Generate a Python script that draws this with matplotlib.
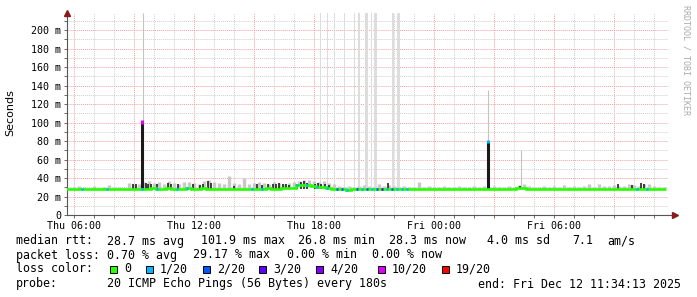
import numpy as np
import matplotlib
matplotlib.use("Agg")
import matplotlib.pyplot as plt
from matplotlib.patches import Rectangle
from matplotlib.ticker import MultipleLocator, FuncFormatter

W, H = 697, 297

# time axis: hours since Thu 00:00, 15 min steps
t_start, t_step = 5.6, 0.25

# median rtt in ms (one value per 15 min)
median = [28.0, 28.2, 27.9, 28.1, 28.0, 28.3, 28.1, 27.9, 28.0, 28.2, 28.1, 28.0,
          28.1, 28.0, 28.3, 28.6, 28.4, 28.9, 28.2, 28.5, 28.7, 28.3, 28.6, 28.4,
          28.8, 28.5, 28.3, 29.0, 28.6, 28.4, 28.2, 28.1, 28.3, 28.0, 28.2, 28.1,
          28.0, 28.2, 28.5, 28.3, 28.9, 28.6, 28.4, 29.0, 28.7, 29.0, 32.0, 32.5,
          32.8, 31.5, 29.8, 30.2, 29.5, 28.0, 27.6, 27.8, 27.5, 27.7, 27.6, 27.8,
          27.8, 28.0, 28.6, 28.1, 27.9, 28.2, 28.0, 28.1, 27.9, 28.2, 28.0, 28.1,
          28.0, 28.2, 27.9, 28.1, 28.3, 28.0, 27.9, 28.2, 28.1, 28.0, 28.2, 28.1,
          28.0, 28.3, 28.1, 28.0, 28.2, 28.1, 28.9, 29.5, 28.3, 28.0, 28.1, 28.2,
          28.0, 28.1, 28.2, 27.9, 28.1, 28.0, 28.2, 28.1, 28.0, 28.3, 28.1, 28.2,
          28.1, 28.0, 28.4, 28.2, 28.0, 28.3, 28.1, 28.0, 28.6, 28.2, 28.1, 28.0]

# loss per step: index into loss_colors
loss = [0, 0, 0, 1, 0, 0, 0, 0, 1, 0, 0, 0,
        0, 0, 0, 1, 0, 0, 1, 0, 0, 0, 1, 0,
        1, 0, 0, 0, 0, 0, 0, 0, 0, 0, 0, 0,
        0, 1, 0, 1, 0, 0, 0, 0, 0, 0, 1, 0,
        1, 0, 1, 0, 1, 0, 2, 2, 1, 0, 2, 1,
        2, 1, 2, 3, 1, 2, 1, 1, 1, 0, 0, 0,
        0, 0, 0, 0, 0, 0, 0, 0, 0, 0, 0, 0,
        0, 0, 0, 0, 0, 0, 0, 0, 0, 0, 0, 0,
        0, 0, 0, 0, 0, 0, 0, 0, 0, 0, 0, 0,
        0, 0, 0, 0, 0, 0, 1, 0, 1, 0, 0, 0]

# light smoke top (ms)
smoke_top = [29.5, 30.0, 31.0, 30.0, 29.5, 31.0, 29.5, 30.5, 32.0, 30.0, 30.5, 29.5,
             35.0, 34.0, 34.0, 36.0, 37.0, 35.0, 36.0, 34.0, 37.0, 35.0, 34.0, 36.0,
             36.0, 35.0, 34.0, 37.0, 38.0, 36.0, 35.0, 34.0, 42.0, 35.0, 34.0, 40.0,
             33.0, 35.0, 36.0, 35.0, 34.0, 36.0, 35.0, 34.0, 35.0, 36.0, 37.0, 38.0,
             38.0, 37.0, 36.0, 37.0, 35.0, 33.0, 31.0, 30.0, 31.0, 30.5, 31.0, 32.0,
             31.0, 30.5, 33.0, 31.0, 32.0, 31.0, 30.5, 31.0, 30.0, 30.5, 36.0, 30.0,
             31.0, 30.0, 30.5, 31.5, 30.0, 30.5, 31.0, 30.0, 30.5, 31.0, 30.0, 31.0,
             30.5, 31.0, 30.0, 30.5, 31.0, 30.0, 32.0, 33.0, 31.0, 30.0, 30.5, 31.0,
             30.0, 31.0, 30.5, 32.0, 30.0, 31.0, 30.5, 31.0, 33.0, 30.0, 34.0, 31.5,
             31.0, 32.0, 31.5, 31.0, 33.0, 32.0, 31.5, 34.0, 33.0, 31.0, 30.5, 30.0]

# dark smoke bars (hour, top ms)
dark_t = [8.95, 9.1, 9.6, 9.7, 9.85, 10.15, 10.7, 10.85, 11.2, 11.95, 12.3, 12.45,
          12.7, 12.85, 14.0, 15.15, 15.4, 15.7, 15.95, 16.1, 16.25, 16.45, 16.6, 16.75,
          17.15, 17.35, 17.5, 17.65, 18.05, 18.2, 18.35, 18.55, 18.75, 21.7, 28.3,
          33.2, 33.9, 34.35, 34.5]
dark_top = [33, 34, 35, 33, 34, 33, 35, 34, 33, 33, 32, 33,
            37, 35, 31, 33, 32, 33, 34, 33, 35, 33, 34, 32,
            33, 36, 37, 35, 34, 35, 33, 34, 32, 35, 31,
            33, 32, 35, 33]

# big spikes: hour, top, loss colour index of the tip
spike_t = [9.4, 26.7]
spike_top = [101.9, 80.5]
spike_loss = [5, 1]

# thin light grey max-ping lines
maxline_t = [9.45, 26.72, 28.35]
maxline_top = [218.0, 135.0, 70.0]

# full-height grey bars (start hour, end hour)
gap_start = [18.30, 18.65, 19.00, 19.50, 20.00, 20.20, 20.55, 20.85, 21.00, 21.90, 22.15]
gap_end = [18.35, 18.70, 19.05, 19.55, 20.05, 20.30, 20.70, 20.90, 21.15, 22.00, 22.30]

loss_labels = ["0", "1/20", "2/20", "3/20", "4/20", "10/20", "19/20"]
loss_colors = ["#26ff00", "#00b8ff", "#0059ff", "#5e00ff", "#7e00ff", "#dd00ff", "#ff0000"]

x_min, x_max = 5.65, 35.7
y_max = 218.4

fig = plt.figure(figsize=(W / 100, H / 100), dpi=100)
ax = fig.add_axes([67 / W, (H - 215) / H, (668 - 67) / W, (215 - 13) / H])

edges = t_start + t_step * np.arange(len(median) + 1)
centers = edges[:-1] + t_step / 2
med = np.array(median)

# grey full-height bars
for a, b in zip(gap_start, gap_end):
    ax.bar(a, y_max - 29, bottom=29, width=b - a, align="edge", color="#dddddd", lw=0, zorder=2)

# light smoke
ax.vlines(centers, med, smoke_top, color="#c8c8c8", lw=2.4, zorder=3)
ax.vlines(maxline_t, 29, maxline_top, color="#c4c4c4", lw=0.8, zorder=3)

# dark smoke
ax.vlines(dark_t, 28, dark_top, color="#222222", lw=1.2, zorder=4)
ax.vlines(spike_t, 28, spike_top, color="#1a1a1a", lw=2.2, zorder=4)
for st, top, li in zip(spike_t, spike_top, spike_loss):
    ax.vlines(st, top - 3, top + 0.5, color=loss_colors[li], lw=2.2, zorder=5)

# median line coloured by loss
ax.stairs(med, edges, baseline=None, color=loss_colors[0], lw=1.9, zorder=5)
for i, li in enumerate(loss):
    if li:
        ax.hlines(med[i], edges[i], edges[i] + 0.12, color=loss_colors[li], lw=1.9, zorder=6)

ax.set_xlim(x_min, x_max)
ax.set_ylim(0, y_max)

# ticks and grid
days = ["Thu", "Fri"]
ax.xaxis.set_major_locator(MultipleLocator(3))
ax.xaxis.set_minor_locator(MultipleLocator(1))
ax.xaxis.set_major_formatter(FuncFormatter(
    lambda v, p: f"{days[int(v // 24)]} {int(v % 24):02d}:00" if round(v) % 6 == 0 else ""))
ax.yaxis.set_major_locator(MultipleLocator(20))
ax.yaxis.set_minor_locator(MultipleLocator(10))
ax.yaxis.set_major_formatter(FuncFormatter(lambda v, p: "0" if v == 0 else f"{int(v)} m"))

ax.grid(which="major", color="#f2a0a0", ls=(0, (1, 1)), lw=0.7, zorder=1)
ax.grid(which="minor", color="#cfcfcf", ls=(0, (1, 1)), lw=0.7, zorder=1)
ax.set_axisbelow(True)

for s in ["top", "right"]:
    ax.spines[s].set_visible(False)
for s in ["left", "bottom"]:
    ax.spines[s].set_color("#555555")
    ax.spines[s].set_linewidth(0.8)
ax.tick_params(which="both", direction="out", length=2, width=0.6, color="#555555",
               labelsize=7.2, pad=2)
for lab in ax.get_xticklabels() + ax.get_yticklabels():
    lab.set_family("DejaVu Sans Mono")

# axis arrows
ax.plot([0], [1.0], marker="^", color="#8b1a1a", ms=4, transform=ax.transAxes, clip_on=False, zorder=7)
ax.plot([1.0, 1.012], [0, 0], color="#555555", lw=0.8, transform=ax.transAxes, clip_on=False)
ax.plot([1.012], [0], marker=">", color="#8b1a1a", ms=4, transform=ax.transAxes, clip_on=False, zorder=7)

fig.text(10 / W, 1 - 113 / H, "Seconds", rotation=90, ha="center", va="center",
         fontsize=8, family="DejaVu Sans")
fig.text(686 / W, 1 - 5 / H, "RRDTOOL / TOBI OETIKER", rotation=270, ha="center", va="top",
         fontsize=6, family="DejaVu Sans Mono", color="#aaaaaa")

# legend text
mono = dict(fontsize=8.4, family="DejaVu Sans Mono", va="center", ha="left")
rows = [
    (241, [(16, "median rtt:"), (107, "28.7 ms avg"), (201, "101.9 ms max"), (298, "26.8 ms min"),
           (389, "28.3 ms now"), (487, "4.0 ms sd"), (572, "7.1"), (607, "am/s")]),
    (255, [(16, "packet loss:"), (107, "0.70 % avg"), (193, "29.17 % max"), (287, "0.00 % min"),
           (372, "0.00 % now")]),
    (269, [(16, "loss color:")]),
    (284, [(16, "probe:"), (107, "20 ICMP Echo Pings (56 Bytes) every 180s"),
           (478, "end: Fri Dec 12 11:34:13 2025")]),
]
for y, items in rows:
    for x, s in items:
        fig.text(x / W, 1 - y / H, s, **mono)

swatch_x = [110, 146, 203, 259, 316, 378, 442]
for x, lab, c in zip(swatch_x, loss_labels, loss_colors):
    fig.add_artist(Rectangle((x / W, 1 - 273 / H), 7 / W, 7 / H, transform=fig.transFigure,
                             facecolor=c, edgecolor="black", lw=0.7))
    fig.text((x + 14) / W, 1 - 269 / H, lab, **mono)

fig.savefig("out.png", dpi=100, facecolor="white")
